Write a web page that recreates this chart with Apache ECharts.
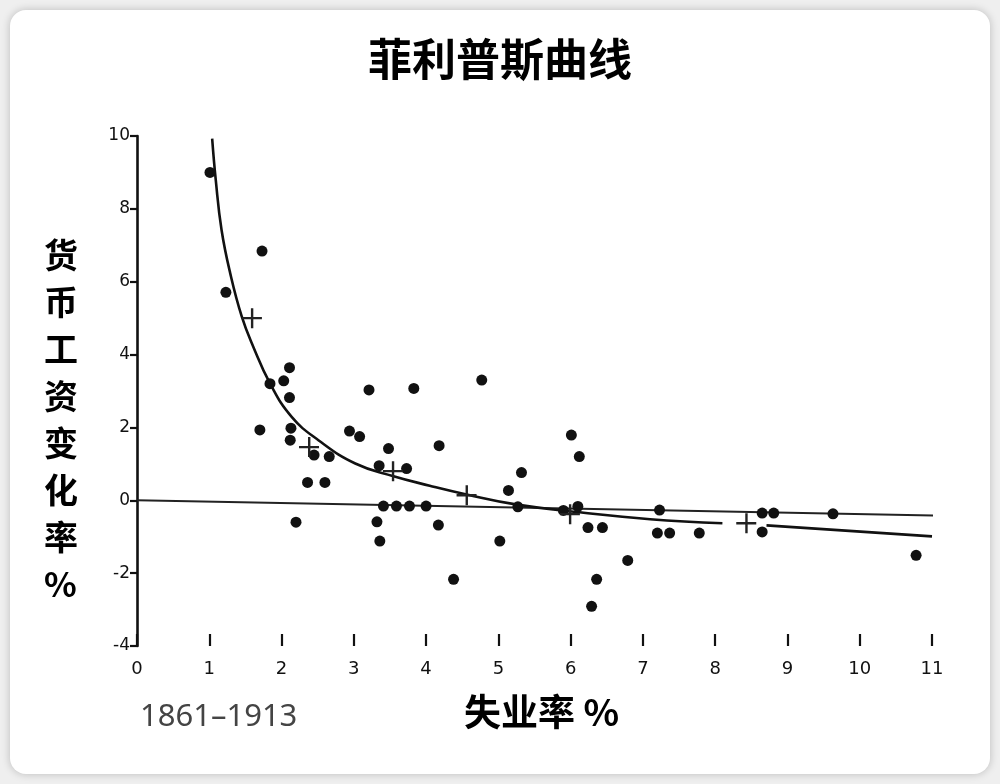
<!DOCTYPE html>
<html>
<head>
<meta charset="utf-8">
<script src="https://cdn.jsdelivr.net/npm/echarts@6/dist/echarts.min.js"></script>
<style>
html,body{margin:0;padding:0;background:#efefef;width:1000px;height:784px;overflow:hidden;}
#card{position:absolute;left:10px;top:10px;width:980px;height:764px;background:#fff;border-radius:16px;box-shadow:0 0 8px rgba(0,0,0,0.22);}
#chart{position:absolute;left:0;top:0;width:1000px;height:784px;}
</style>
</head>
<body>
<div id="card"></div>
<div id="chart"></div>
<script>
// Title and labels
const titleText = '菲利普斯曲线';
const yName = ['货','币','工','资','变','化','率','%'];
const xName = '失业率 %';
const periodLabel = '1861–1913';

// Axis ticks
const xTicks = [0,1,2,3,4,5,6,7,8,9,10,11];
const yTicks = [-4,-2,0,2,4,6,8,10];

// Observations: [unemployment %, wage change %]
const observations = [
  [1.01,9.0],[1.23,5.71],[1.73,6.84],[1.70,1.93],[1.84,3.2],[2.03,3.28],[2.11,3.64],
  [2.11,2.82],[2.13,1.98],[2.12,1.65],[2.20,-0.6],[2.36,0.49],[2.45,1.24],[2.60,0.49],
  [2.66,1.2],[2.94,1.9],[3.08,1.75],[3.21,3.03],[3.48,1.42],[3.35,0.95],[3.73,0.87],
  [3.83,3.07],[3.41,-0.16],[3.59,-0.16],[3.77,-0.16],[4.0,-0.16],[3.32,-0.59],[3.36,-1.12],
  [4.18,1.5],[4.17,-0.68],[4.38,-2.17],[4.77,3.30],[5.02,-1.12],[5.14,0.27],[5.32,0.76],
  [5.27,-0.18],[5.90,-0.28],[6.10,-0.17],[6.01,1.79],[6.12,1.2],[6.24,-0.75],[6.44,-0.75],
  [6.36,-2.17],[6.29,-2.91],[6.79,-1.65],[7.23,-0.27],[7.2,-0.9],[7.37,-0.9],[7.78,-0.9],
  [8.65,-0.35],[8.81,-0.35],[8.65,-0.87],[9.63,-0.37],[10.78,-1.51]
];

// Group averages (crosses)
const averages = [[1.59,5.0],[2.38,1.46],[3.54,0.8],[4.56,0.14],[5.99,-0.38],[8.43,-0.63]];

// Fitted curve
const fittedCurve = [
  [1.04,9.93],[1.09,8.79],[1.17,7.42],[1.29,6.23],[1.45,5.04],[1.61,4.21],[1.84,3.21],
  [2.14,2.29],[2.51,1.65],[3.02,1.01],[3.55,0.66],[4.05,0.40],[4.56,0.16],[5.26,-0.12],
  [6.08,-0.32],[7.1,-0.52],[8.1,-0.63],null,[8.71,-0.69],[11.0,-0.99]
];

// Straight line
const straightLine = [[0,0],[11.05,-0.42]];

const chart = echarts.init(document.getElementById('chart'));
const ink = '#111';
const plusPath = 'path://M9,0h2.4v8.8h8.6v2.4h-8.6v8.8h-2.4v-8.8h-9v-2.4h9z';

chart.setOption({
  backgroundColor: 'transparent',
  animation: false,
  title: {
    text: titleText, left: 'center', top: 32,
    textStyle: {fontSize: 44, fontWeight: 'bold', color: '#000', fontFamily: 'Noto Sans CJK SC'}
  },
  grid: {left: 137, right: 68, top: 136, bottom: 138, containLabel: false},
  xAxis: {
    type: 'value', min: 0, max: 11, interval: 1,
    axisLine: {show: false, onZero: false},
    axisTick: {show: true, inside: true, length: 12, lineStyle: {color: ink, width: 2.2}},
    splitLine: {show: false},
    axisLabel: {margin: 14, fontSize: 18, color: '#111', fontFamily: 'DejaVu Sans',
      formatter: v => xTicks.indexOf(v) >= 0 ? String(v) : ''}
  },
  yAxis: {
    type: 'value', min: -4, max: 10, interval: 2,
    axisLine: {show: true, onZero: false, lineStyle: {color: ink, width: 2.6}},
    axisTick: {show: true, length: 7, lineStyle: {color: ink, width: 2.2}},
    splitLine: {show: false},
    axisLabel: {margin: 7, fontSize: 17, color: '#111', fontFamily: 'DejaVu Sans',
      formatter: v => yTicks.indexOf(v) >= 0 ? String(v) : ''}
  },
  graphic: [
    {type: 'text', left: 44, top: 232, style: {text: yName.join('\n'), fontSize: 34, lineHeight: 47,
      fontWeight: 'bold', fill: '#000', fontFamily: 'Noto Sans CJK SC', align: 'center'}},
    {type: 'text', left: 464, top: 693, style: {text: xName, fontSize: 37, fontWeight: 'bold',
      fill: '#000', fontFamily: 'Noto Sans CJK SC'}},
    {type: 'text', left: 140, top: 702, style: {text: periodLabel, fontSize: 31, fill: '#444',
      fontFamily: 'Noto Sans'}}
  ],
  series: [
    {type: 'line', data: straightLine, showSymbol: false, symbol: 'none',
      lineStyle: {color: '#222', width: 2}, z: 2},
    {type: 'line', data: fittedCurve, showSymbol: false, symbol: 'none', smooth: 0.45,
      connectNulls: false, lineStyle: {color: ink, width: 2.6}, z: 3},
    {type: 'scatter', data: observations, symbol: 'circle', symbolSize: 11,
      itemStyle: {color: ink, opacity: 1}, z: 4},
    {type: 'scatter', data: averages, symbol: plusPath, symbolSize: 20,
      itemStyle: {color: '#222', opacity: 1}, z: 5}
  ]
});
</script>
</body>
</html>
